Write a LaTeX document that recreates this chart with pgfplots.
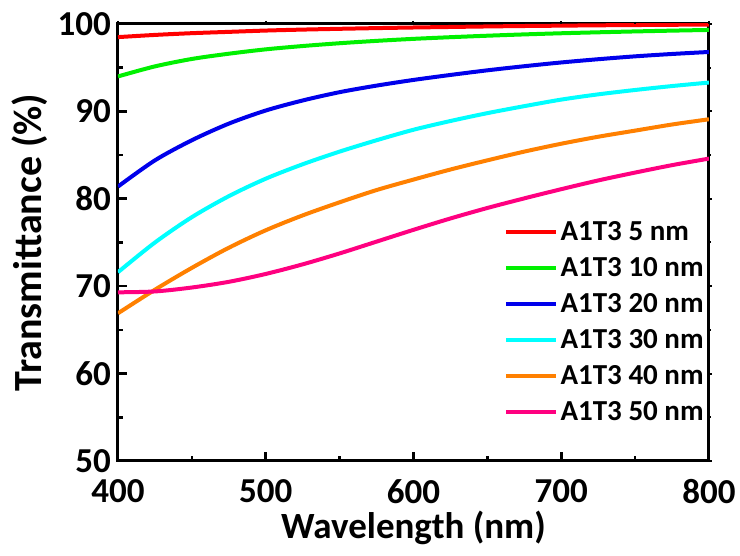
\documentclass[border=0pt]{standalone}
\usepackage{fontspec}
\setmainfont{Carlito}
\usepackage{pgfplots}
\pgfplotsset{compat=1.18}
\definecolor{cRed}{RGB}{255,0,0}
\definecolor{cGreen}{RGB}{0,240,0}
\definecolor{cBlue}{RGB}{0,0,235}
\definecolor{cCyan}{RGB}{0,255,255}
\definecolor{cOrange}{RGB}{255,128,0}
\definecolor{cPink}{RGB}{255,0,128}
\begin{document}
\begin{tikzpicture}
\useasboundingbox (-59pt,-47.5pt) rectangle (311pt,230.5pt);
\begin{axis}[
  scale only axis, width=295.5pt, height=218.5pt,
  xmin=400, xmax=800, ymin=50, ymax=100,
  xtick={400,500,...,800}, ytick={50,60,...,100},
  minor x tick num=1, minor y tick num=1,
  xtick pos=left, ytick pos=left,
  tick align=inside, major tick length=4.5pt, minor tick length=2.5pt,
  axis line style={line width=1.5pt},
  every tick/.style={line width=1.3pt, black},
  /pgf/number format/assume math mode=true,
  ticklabel style={font=\fontsize{17.5}{17.5}\selectfont\bfseries, inner ysep=0pt},
  xticklabel style={yshift=-9pt},
  xlabel={Wavelength (nm)}, ylabel={Transmittance (\%)},
  xlabel style={font=\fontsize{18.5}{18.5}\selectfont\bfseries},
  ylabel style={font=\fontsize{20}{20}\selectfont\bfseries},
  ylabel shift=-2pt,
  legend style={draw=none, fill=none, at={(rel axis cs:0.6535,0.565)}, anchor=north west,
    inner sep=0pt, outer sep=0pt, row sep=0pt,
    nodes={font=\fontsize{14.5}{14.5}\selectfont\bfseries, text height=11pt, text depth=3pt, inner ysep=2pt, inner xsep=1.2pt}},
  legend cell align=left,
  legend image code/.code={\draw[#1, line width=2pt] (0pt,0pt) -- (25pt,0pt);},
  every axis plot/.append style={line width=2pt, smooth},
]
\addplot[cRed] coordinates {(400,98.5) (425,98.75) (450,98.95) (475,99.1) (500,99.25) (525,99.36) (550,99.45) (575,99.53) (600,99.6) (625,99.66) (650,99.72) (675,99.77) (700,99.81) (725,99.85) (750,99.88) (775,99.91) (800,99.93)};
\addlegendentry{A1T3 5 nm}
\addplot[cGreen] coordinates {(400,94.0) (425,95.15) (450,96.0) (475,96.6) (500,97.1) (525,97.48) (550,97.8) (575,98.07) (600,98.3) (625,98.49) (650,98.66) (675,98.81) (700,98.94) (725,99.05) (750,99.15) (775,99.24) (800,99.32)};
\addlegendentry{A1T3 10 nm}
\addplot[cBlue] coordinates {(400,81.4) (425,84.4) (450,86.7) (475,88.6) (500,90.1) (525,91.25) (550,92.2) (575,92.95) (600,93.6) (625,94.17) (650,94.7) (675,95.17) (700,95.6) (725,95.97) (750,96.3) (775,96.57) (800,96.8)};
\addlegendentry{A1T3 20 nm}
\addplot[cCyan] coordinates {(400,71.6) (425,75.0) (450,77.9) (475,80.3) (500,82.3) (525,83.95) (550,85.4) (575,86.7) (600,87.9) (625,88.9) (650,89.8) (675,90.6) (700,91.35) (725,91.95) (750,92.45) (775,92.9) (800,93.3)};
\addlegendentry{A1T3 30 nm}
\addplot[cOrange] coordinates {(400,66.9) (425,69.6) (450,72.1) (475,74.4) (500,76.4) (525,78.1) (550,79.6) (575,81.0) (600,82.2) (625,83.35) (650,84.4) (675,85.4) (700,86.3) (725,87.1) (750,87.8) (775,88.5) (800,89.1)};
\addlegendentry{A1T3 40 nm}
\addplot[cPink] coordinates {(400,69.3) (425,69.4) (450,69.85) (475,70.5) (500,71.4) (525,72.5) (550,73.75) (575,75.1) (600,76.45) (625,77.75) (650,78.95) (675,80.05) (700,81.1) (725,82.1) (750,83.0) (775,83.85) (800,84.6)};
\addlegendentry{A1T3 50 nm}
\end{axis}
\begin{axis}[
  scale only axis, width=295.5pt, height=218.5pt,
  xmin=400, xmax=800, ymin=50, ymax=100,
  xtick={400,500,...,800}, ytick={50,60,...,100},
  minor x tick num=1, minor y tick num=1,
  xtick pos=right, ytick pos=right,
  tick align=outside, major tick length=1.5pt, minor tick length=1pt,
  axis line style={draw=none},
  every tick/.style={line width=1pt, black},
  xticklabels={}, yticklabels={},
]
\end{axis}
\end{tikzpicture}
\end{document}
